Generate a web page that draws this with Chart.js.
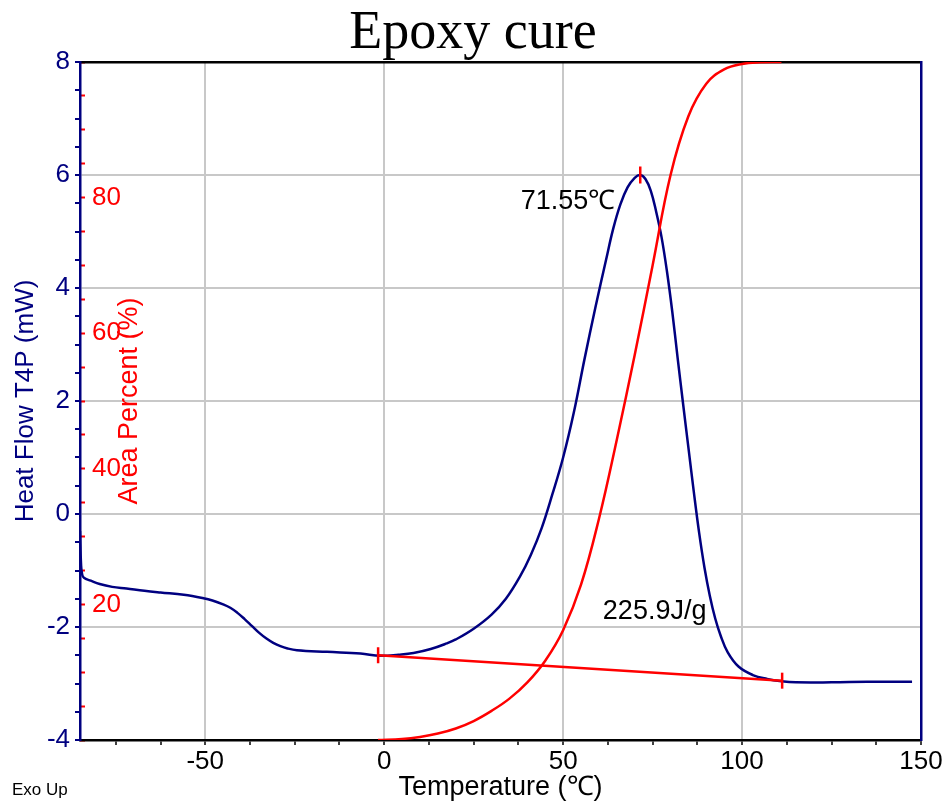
<!DOCTYPE html>
<html>
<head>
<meta charset="utf-8">
<title>Epoxy cure</title>
<script src="https://cdn.jsdelivr.net/npm/chart.js@4.4.1/dist/chart.umd.min.js"></script>
<style>
  html, body { margin: 0; padding: 0; background: #fff; }
  #chart { display: block; }
</style>
</head>
<body>
<canvas id="chart" width="946" height="804"></canvas>
<script>
// heat flow trace : temperature (℃) / heat flow (mW)
const hfTemp = [-85.0, -84.7, -84.4, -83.9, -82.0, -79.5, -76.0, -72.0, -67.0, -62.5,
  -56.0, -50.5, -48.0, -45.0, -43.0, -41.0, -39.0, -37.0, -35.0, -33.0,
  -31.0, -29.0, -27.0, -24.4, -16.0, -6.6, -1.0, 4.0, 8.2, 13.0,
  17.5, 20.0, 25.0, 30.0, 34.0, 38.0, 41.0, 44.0, 47.0, 50.0,
  53.0, 56.0, 59.0, 62.0, 64.0, 66.0, 68.0, 70.0, 71.55, 73.0,
  74.5, 76.0, 77.5, 79.0, 80.5, 82.0, 83.5, 85.0, 86.5, 88.0,
  89.5, 91.0, 92.5, 94.0, 96.0, 99.0, 103.0, 107.0, 111.0, 115.0,
  125.0, 135.0, 147.5]
const hfValue = [-0.3, -0.9, -1.07, -1.13, -1.18, -1.24, -1.29, -1.32, -1.36, -1.39,
  -1.43, -1.49, -1.53, -1.60, -1.66, -1.75, -1.86, -1.98, -2.10, -2.20,
  -2.28, -2.34, -2.38, -2.41, -2.44, -2.47, -2.51, -2.49, -2.46, -2.39,
  -2.29, -2.22, -2.03, -1.78, -1.50, -1.10, -0.72, -0.25, 0.35, 1.00,
  1.80, 2.75, 3.65, 4.50, 5.05, 5.48, 5.78, 5.95, 6.00, 5.93,
  5.72, 5.35, 4.90, 4.30, 3.58, 2.76, 1.96, 1.18, 0.40, -0.33,
  -0.95, -1.45, -1.85, -2.15, -2.45, -2.70, -2.85, -2.92, -2.96, -2.98,
  -2.98, -2.97, -2.97]

// cumulative area : temperature (℃) / area percent (%)
const areaTemp = [-1.7, 5, 10, 15, 20, 25, 30, 35, 40, 45, 50, 55,
  60, 65, 70, 75, 80, 85, 90, 95, 100, 105, 111]
const areaPct = [0, 0.15, 0.45, 0.95, 1.7, 2.8, 4.3, 6.1, 8.5, 11.7, 16.2, 22.9,
  32.6, 44.3, 56.8, 70, 83.3, 92, 96.8, 98.9, 99.7, 99.95, 100]

// integration baseline and peak
const baseTemp = [-1.7, 111.2]
const baseValue = [-2.50, -2.95]
const peakTemp = [71.55]
const peakValue = [6.0]

// tick labels
const xLabels = [-50, 0, 50, 100, 150]
const hfLabels = [-4, -2, 0, 2, 4, 6, 8]
const pctLabels = [20, 40, 60, 80]

// annotations
const noteText = ['71.55℃', '225.9J/g']
const noteTemp = [71.55, 61.1]
const noteValue = [6.0, -1.86]

const NAVY = '#000080'
const RED = '#ff0000'
const GRID = '#c8c8c8'
const SANS = '"Liberation Sans", Arial, Helvetica, sans-serif'
const NONE = 'rgba(0,0,0,0)'

const pts = (xs, ys) => xs.map((x, i) => ({ x, y: ys[i] }))
// minor tick marks every step between min and max
const steps = (min, max, step) => {
  const out = []
  for (let v = min; v <= max + 1e-9; v += step) out.push({ value: +v.toFixed(4) })
  return out
}

const notes = {
  id: 'notes',
  afterDatasetsDraw(chart) {
    const { ctx, scales } = chart
    const x = scales.x, y = scales.yHF
    ctx.save()
    ctx.fillStyle = '#000'
    ctx.font = '27px ' + SANS
    ctx.textBaseline = 'alphabetic'
    ctx.textAlign = 'right'
    ctx.fillText(noteText[0], x.getPixelForValue(noteTemp[0]) - 25, y.getPixelForValue(noteValue[0]) + 34)
    ctx.textAlign = 'left'
    ctx.fillText(noteText[1], x.getPixelForValue(noteTemp[1]), y.getPixelForValue(noteValue[1]))
    ctx.font = '17px ' + SANS
    ctx.fillText('Exo Up', 12, 795)
    ctx.restore()
  }
}

const chart = new Chart(document.getElementById('chart'), {
  type: 'line',
  data: {
    datasets: [{
      label: 'baseline',
      yAxisID: 'yHF',
      data: pts(baseTemp, baseValue),
      borderColor: RED,
      borderWidth: 2.5,
      pointStyle: 'line',
      pointRotation: 90,
      pointRadius: 8,
      pointBorderColor: RED,
      pointBorderWidth: 2.5
    }, {
      label: 'peak',
      yAxisID: 'yHF',
      data: pts(peakTemp, peakValue),
      showLine: false,
      pointStyle: 'line',
      pointRotation: 90,
      pointRadius: 8.5,
      pointBorderColor: RED,
      pointBorderWidth: 2.5
    }, {
      label: 'Area Percent',
      yAxisID: 'yPct',
      data: pts(areaTemp, areaPct),
      borderColor: RED,
      borderWidth: 2.5,
      pointRadius: 0,
      tension: 0.4
    }, {
      label: 'Heat Flow T4P',
      yAxisID: 'yHF',
      data: pts(hfTemp, hfValue),
      borderColor: NAVY,
      borderWidth: 2.5,
      pointRadius: 0,
      tension: 0.4
    }]
  },
  options: {
    responsive: false,
    animation: false,
    devicePixelRatio: 1,
    layout: { padding: 0 },
    plugins: {
      legend: { display: false },
      tooltip: { enabled: false },
      title: {
        display: true,
        text: 'Epoxy cure',
        color: '#000',
        padding: { top: 6, bottom: 0 },
        font: { family: '"Liberation Serif", "Times New Roman", serif', size: 54, weight: 'normal', lineHeight: 56 / 54 }
      }
    },
    scales: {
      x: {
        type: 'linear',
        position: 'bottom',
        min: -85,
        max: 150,
        afterBuildTicks: s => { s.ticks = steps(-75, 150, 12.5) },
        afterFit: s => { s.height = 64 },
        grid: {
          color: c => (c.tick && xLabels.includes(c.tick.value) && c.tick.value < 150) ? GRID : NONE,
          lineWidth: 2,
          tickColor: '#000',
          tickWidth: 1.5,
          tickLength: 5
        },
        border: { color: '#000', width: 2.5 },
        ticks: {
          autoSkip: false,
          maxRotation: 0,
          minRotation: 0,
          padding: 1,
          color: '#000',
          font: { family: SANS, size: 26 },
          callback: v => xLabels.includes(v) ? String(v) : ''
        },
        title: {
          display: true,
          text: 'Temperature (℃)',
          color: '#000',
          font: { family: SANS, size: 27 },
          padding: { top: 0, bottom: 0 }
        }
      },
      xTop: {
        type: 'linear',
        position: 'top',
        min: -85,
        max: 150,
        afterFit: s => { s.height = 0 },
        grid: { drawOnChartArea: false, drawTicks: false },
        border: { color: '#000', width: 2.5 },
        ticks: { display: false }
      },
      yHF: {
        type: 'linear',
        position: 'left',
        weight: 10,
        min: -4,
        max: 8,
        afterBuildTicks: s => { s.ticks = steps(-4, 8, 0.5) },
        afterFit: s => { s.width = 80 },
        grid: {
          color: c => (c.tick && hfLabels.includes(c.tick.value) && c.tick.value > -4 && c.tick.value < 8) ? GRID : NONE,
          lineWidth: 2,
          tickColor: NAVY,
          tickWidth: 2,
          tickLength: 5
        },
        border: { color: NAVY, width: 2.5 },
        ticks: {
          autoSkip: false,
          padding: 5,
          color: NAVY,
          font: { family: SANS, size: 26 },
          callback: v => hfLabels.includes(v) ? String(v) : ''
        },
        title: {
          display: true,
          text: 'Heat Flow T4P (mW)',
          color: NAVY,
          font: { family: SANS, size: 26 },
          padding: { top: 10, bottom: 0 }
        }
      },
      yPct: {
        type: 'linear',
        position: 'left',
        weight: 0,
        min: 0,
        max: 100,
        afterBuildTicks: s => { s.ticks = steps(0, 100, 5) },
        afterFit: s => { s.width = 0 },
        grid: {
          drawOnChartArea: false,
          tickColor: RED,
          tickWidth: 2,
          tickLength: -5
        },
        border: { display: false },
        ticks: {
          autoSkip: false,
          mirror: true,
          padding: 12,
          color: RED,
          font: { family: SANS, size: 26 },
          callback: v => pctLabels.includes(v) ? String(v) : ''
        },
        title: {
          display: true,
          text: 'Area Percent (%)',
          color: RED,
          font: { family: SANS, size: 27 },
          padding: { top: 33, bottom: 0 }
        }
      },
      yRight: {
        type: 'linear',
        position: 'right',
        min: -4,
        max: 8,
        afterFit: s => { s.width = 25 },
        grid: { drawOnChartArea: false, drawTicks: false },
        border: { color: NAVY, width: 2.5 },
        ticks: { display: false }
      }
    }
  },
  plugins: [notes]
})
</script>
</body>
</html>
